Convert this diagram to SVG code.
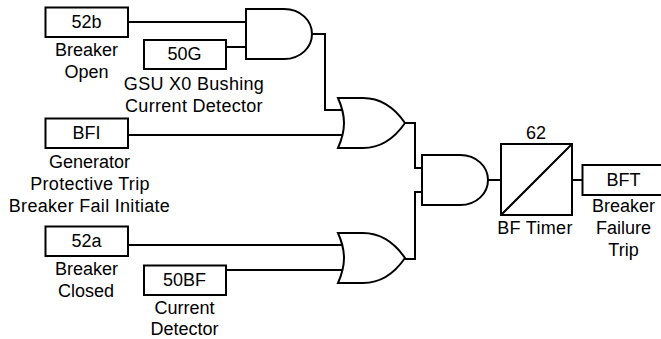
<svg xmlns="http://www.w3.org/2000/svg" width="661" height="339" viewBox="0 0 661 339">
<style>
.s{fill:#fff;stroke:#000;stroke-width:2}
.w{fill:none;stroke:#000;stroke-width:2}
.l{letter-spacing:.3px}
text{font-family:"Liberation Sans",Arial,sans-serif;font-size:18px;fill:#000;text-anchor:middle}
</style>
<defs>
<path id="and" class="s" d="M0 0H38C55 0 66 12 66 25S55 50 38 50H0Z"/>
<path id="or" class="s" d="M0 0H25C41 0 56 9 67 25C56 41 41 50 25 50H0C4 41 6 33 6 25S4 9 0 0Z"/>
</defs>
<g id="connectors">
<path class="w" d="M128 22H246M226 47H246M312 34H325V110H342M128 135H344M405 123H415V168H422M405 259H415V192H422M128 245H342M226 270H342M488 180H501M572 180H582"/>
</g>
<g id="n52b"><rect class="s" x="45.500" y="7.500" width="82.500" height="29.500"/><text x="86.500" y="28">52b</text><text x="86.500" y="56">Breaker</text><text x="86.500" y="78">Open</text></g>
<g id="n50G"><rect class="s" x="144" y="40" width="82" height="29"/><text x="184.500" y="60">50G</text><text class="l" x="194" y="90">GSU X0 Bushing</text><text class="l" x="194" y="112">Current Detector</text></g>
<g id="nBFI"><rect class="s" x="45.500" y="118.500" width="82.500" height="29.500"/><text x="86.500" y="139">BFI</text><text x="89.500" y="168">Generator</text><text class="l" x="90" y="190">Protective Trip</text><text class="l" x="89.500" y="212">Breaker Fail Initiate</text></g>
<g id="n52a"><rect class="s" x="45.500" y="226.500" width="82.500" height="29.500"/><text x="86.500" y="247">52a</text><text x="86.500" y="275">Breaker</text><text x="86" y="297">Closed</text></g>
<g id="n50BF"><rect class="s" x="144" y="265.500" width="82" height="29.500"/><text x="184.500" y="285.500">50BF</text><text x="184.500" y="314">Current</text><text x="184.500" y="335">Detector</text></g>
<g id="and1"><use href="#and" x="246" y="9"/></g>
<g id="or1"><use href="#or" x="338" y="98"/></g>
<g id="or2"><use href="#or" x="338" y="233"/></g>
<g id="and2"><use href="#and" x="422" y="155"/></g>
<g id="timer"><rect class="s" x="501" y="144" width="71" height="71"/><path class="w" d="M501 215L572 144"/><text x="536" y="139">62</text><text class="l" x="535" y="234">BF Timer</text></g>
<g id="nBFT"><path class="s" d="M662 165H582.500V195H662"/><text x="623.500" y="185.500">BFT</text><text x="623.500" y="212">Breaker</text><text x="623.500" y="234">Failure</text><text x="623.500" y="256">Trip</text></g>
</svg>
